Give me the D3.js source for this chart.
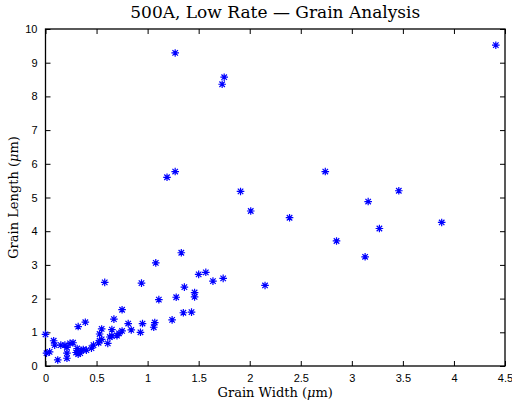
<!DOCTYPE html>
<html>
<head>
<meta charset="utf-8">
<script src="https://cdn.jsdelivr.net/npm/d3@7"></script>
<style>
  body { margin: 0; background: #fff; }
  .tick text { font-family: "Liberation Sans", Arial, sans-serif; font-size: 11px; fill: #000; }
  .tick line { stroke: #000; }
  .serif { font-family: "DejaVu Serif", "Liberation Serif", serif; fill: #000; }
</style>
</head>
<body>
<div id="chart"></div>
<script>
var grainWidth = [1.27, 4.41, 1.75, 1.73, 1.27, 1.19, 1.91, 2.01, 2.74, 3.46,
  3.16, 2.39, 3.88, 3.27, 2.85, 3.13, 2.15, 1.33, 1.08, 0.94,
  0.58, 1.50, 1.57, 1.64, 1.74, 1.36, 1.46, 1.46, 1.28, 1.11,
  1.35, 1.43, 1.24, 0.75, 0.67, 0.81, 0.95, 1.07, 1.06, 0.65,
  0.75, 0.84, 0.93, 0.65, 0.70, 0.72, 0.63, 0.61, 0.55, 0.53,
  0.53, 0.55, 0.52, 0.47, 0.45, 0.40, 0.39, 0.32, 0.31, 0.32,
  0.35, 0.34, 0.30, 0.37, 0.32, 0.27, 0.24, 0.19, 0.15, 0.09,
  0.21, 0.21, 0.21, 0.12, 0.04, 0.01, 0.08, 0.00];
var grainLength = [9.29, 9.52, 8.57, 8.36, 5.77, 5.60, 5.18, 4.60, 5.77, 5.20,
  4.88, 4.40, 4.26, 4.08, 3.71, 3.24, 2.39, 3.36, 3.06, 2.46,
  2.48, 2.72, 2.78, 2.52, 2.60, 2.34, 2.18, 2.05, 2.04, 1.97,
  1.58, 1.60, 1.37, 1.67, 1.39, 1.26, 1.26, 1.29, 1.15, 1.08,
  1.04, 1.07, 1.00, 0.89, 0.90, 0.97, 0.86, 0.67, 1.10, 0.95,
  0.75, 0.79, 0.69, 0.62, 0.53, 0.47, 1.30, 1.17, 0.52, 0.41,
  0.46, 0.38, 0.40, 0.49, 0.35, 0.69, 0.67, 0.62, 0.62, 0.62,
  0.38, 0.23, 0.55, 0.18, 0.42, 0.38, 0.75, 0.94];
var xTicks = [0, 0.5, 1, 1.5, 2, 2.5, 3, 3.5, 4, 4.5];
var yTicks = [0, 1, 2, 3, 4, 5, 6, 7, 8, 9, 10];

var points = grainWidth.map(function(w, i) { return {w: w, l: grainLength[i]}; });

var margin = {top: 29, right: 7, bottom: 38, left: 45.5},
    width = 512 - margin.left - margin.right,
    height = 404 - margin.top - margin.bottom;

var svg = d3.select("#chart")
  .append("svg")
    .attr("width", 512)
    .attr("height", 404);

var g = svg.append("g")
    .attr("transform", "translate(" + margin.left + "," + margin.top + ")");

var x = d3.scaleLinear().domain([0, 4.5]).range([0, width]);
var y = d3.scaleLinear().domain([0, 10]).range([height, 0]);

// axes with inward ticks, mirrored on top and right
g.append("g")
    .attr("transform", "translate(0," + height + ")")
    .call(d3.axisBottom(x).tickValues(xTicks).tickSize(-5).tickPadding(8)
      .tickFormat(d3.format("")));
g.append("g")
    .call(d3.axisTop(x).tickValues(xTicks).tickSize(-5).tickFormat(""));
g.append("g")
    .call(d3.axisLeft(y).tickValues(yTicks).tickSize(-5).tickPadding(8));
g.append("g")
    .attr("transform", "translate(" + width + ",0)")
    .call(d3.axisRight(y).tickValues(yTicks).tickSize(-5).tickFormat(""));
g.selectAll(".domain").remove();

g.append("rect")
    .attr("width", width)
    .attr("height", height)
    .attr("fill", "none")
    .attr("stroke", "#000")
    .attr("stroke-width", 1.3);

// asterisk markers
var r = 3.8, d = r * 0.72;
var star = "M" + (-r) + ",0H" + r + "M0," + (-r) + "V" + r +
  "M" + (-d) + "," + (-d) + "L" + d + "," + d +
  "M" + (-d) + "," + d + "L" + d + "," + (-d);

g.append("g")
  .selectAll("path")
  .data(points)
  .enter()
  .append("path")
    .attr("d", star)
    .attr("transform", function(p) { return "translate(" + x(p.w) + "," + y(p.l) + ")"; })
    .attr("stroke", "#0000ff")
    .attr("stroke-width", 1.2)
    .attr("fill", "none");

// title and axis labels
svg.append("text")
    .attr("class", "serif")
    .attr("x", margin.left + width / 2)
    .attr("y", 18)
    .attr("text-anchor", "middle")
    .style("font-size", "17px")
    .text("500A, Low Rate \u2014 Grain Analysis");

var xl = svg.append("text")
    .attr("class", "serif")
    .attr("x", margin.left + width / 2)
    .attr("y", 397)
    .attr("text-anchor", "middle")
    .style("font-size", "13px");
xl.append("tspan").text("Grain Width (");
xl.append("tspan").style("font-style", "italic").text("\u03bc");
xl.append("tspan").text("m)");

var yl = svg.append("text")
    .attr("class", "serif")
    .attr("transform", "translate(18," + (margin.top + height / 2) + ") rotate(-90)")
    .attr("text-anchor", "middle")
    .style("font-size", "13px");
yl.append("tspan").text("Grain Length (");
yl.append("tspan").style("font-style", "italic").text("\u03bc");
yl.append("tspan").text("m)");
</script>
</body>
</html>
